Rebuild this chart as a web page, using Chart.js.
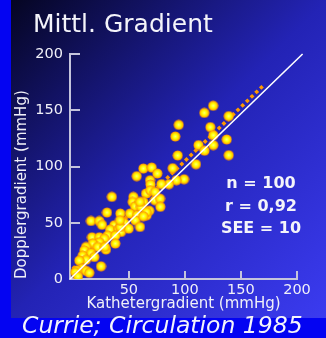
<!DOCTYPE html>
<html>
<head>
<meta charset="utf-8">
<script src="https://cdn.jsdelivr.net/npm/chart.js@4.4.1/dist/chart.umd.min.js"></script>
<style>
  html, body { margin: 0; padding: 0; width: 326px; height: 338px; overflow: hidden; background: #0404f2; }
  #panel { position: absolute; left: 11px; top: 0; width: 315px; height: 318px;
           background: linear-gradient(to bottom right, #050522 0%, #2323b5 50%, #3b3bf0 100%); }
  #c { position: absolute; left: 0; top: 0; }
  .t { position: absolute; color: #f4f4fa; font-family: "DejaVu Sans", sans-serif; white-space: nowrap; }
  #title { left: 33px; top: 9px; font-size: 25px; line-height: 30px; }
  #stats { left: 211px; top: 172px; width: 100px; text-align: center; font-weight: bold; font-size: 16px; line-height: 22.5px; }
  #cite { left: 22px; top: 311px; font-size: 23.5px; line-height: 28px; font-style: italic; }
</style>
</head>
<body>
<div id="panel"></div>
<canvas id="c" width="326" height="338"></canvas>
<div class="t" id="title">Mittl. Gradient</div>
<div class="t" id="stats">n = 100<br>r = 0,92<br>SEE = 10</div>
<div class="t" id="cite">Currie; Circulation 1985</div>
<script>
// Catheter (x) vs. Doppler (y) mean gradient, mmHg
const catheterGradient = [
  125.2, 117.3, 94.5, 139.1, 122.7, 125.3, 91.4, 137.3, 112.1, 125.3,
  117.5, 93.6, 139.1, 109.9, 89.1, 62.9, 70.4, 75.4, 57.0, 68.9,
  99.2, 92.5, 69.3, 85.8, 79.0, 65.3, 69.1, 34.8, 54.0, 73.3,
  77.8, 53.4, 62.9, 55.5, 60.8, 78.1, 68.2, 30.5, 42.4, 51.0,
  57.3, 65.9, 55.8, 16.2, 23.6, 26.0, 37.0, 45.9, 33.2, 40.9,
  43.0, 49.9, 17.1, 23.6, 31.1, 37.9, 28.1, 23.6, 37.9, 17.8,
  11.8, 22.2, 29.6, 10.3, 16.2, 8.8, 19.2, 11.8, 5.8, 25.2,
  8.2, 3.7, 11.8, 14.7, 2.2, 4.6, 73.3, 65.9, 62.9, 59.9,
  42.4, 59.9, 42.1, 28.7
];
const dopplerGradient = [
  154.0, 147.7, 137.0, 144.8, 135.0, 127.8, 126.7, 124.0, 119.0, 119.0,
  114.1, 109.8, 110.1, 102.0, 98.5, 98.2, 99.1, 93.8, 91.4, 87.8,
  88.7, 87.8, 84.0, 84.3, 84.3, 76.0, 78.9, 73.0, 73.0, 70.0,
  71.4, 68.5, 68.5, 64.7, 64.2, 64.2, 60.7, 59.1, 58.2, 58.2,
  56.7, 56.7, 52.2, 51.6, 51.6, 48.2, 47.8, 49.8, 43.9, 44.5,
  41.8, 44.8, 37.1, 37.1, 38.6, 38.6, 35.9, 32.7, 31.5, 31.5,
  28.5, 28.5, 26.2, 25.5, 23.1, 20.8, 19.6, 17.1, 16.4, 11.3,
  9.3, 7.7, 7.3, 5.5, 6.0, 2.4, 77.4, 59.6, 55.8, 68.5,
  46.3, 46.3, 52.2, 28.5
];

// Reference line and regression line endpoints
const identityX = [-2.5, 205];
const identityY = [0, 200];
const regressionX = [0, 171];
const regressionY = [9, 173];

const yTickValues = [0, 50, 100, 150, 200];
const xTickValues = [50, 100, 150, 200];

const toPoints = (xs, ys) => xs.map((x, i) => ({ x: x, y: ys[i] }));

// Shaded yellow/orange marker sprite
function makeDot() {
  const c = document.createElement('canvas');
  c.width = 11; c.height = 11;
  const g = c.getContext('2d');
  const rg = g.createRadialGradient(5.5, 5.5, 0, 5.5, 5.5, 5.5);
  rg.addColorStop(0, '#ffff80');
  rg.addColorStop(0.4, '#ffff00');
  rg.addColorStop(0.65, '#ffd000');
  rg.addColorStop(0.85, '#ff9800');
  rg.addColorStop(1, 'rgba(235,125,0,0.2)');
  g.fillStyle = rg;
  g.beginPath();
  g.arc(5.5, 5.5, 5.3, 0, Math.PI * 2);
  g.fill();
  return c;
}

const axisColor = '#c4c4dc';

// Short tick marks pointing into the plot area
const innerTicks = {
  id: 'innerTicks',
  afterDraw(chart) {
    const { ctx, chartArea: a, scales: { x, y } } = chart;
    ctx.save();
    ctx.strokeStyle = axisColor;
    ctx.lineWidth = 2;
    ctx.beginPath();
    yTickValues.slice(1).forEach(v => {
      const py = Math.round(y.getPixelForValue(v));
      ctx.moveTo(a.left, py); ctx.lineTo(a.left + 10, py);
    });
    xTickValues.forEach(v => {
      const px = Math.round(x.getPixelForValue(v));
      ctx.moveTo(px, a.bottom); ctx.lineTo(px, a.bottom - 8);
    });
    ctx.stroke();
    ctx.restore();
  }
};

const font = { family: '"DejaVu Sans", sans-serif' };

new Chart(document.getElementById('c'), {
  type: 'scatter',
  data: {
    datasets: [
      {
        type: 'line',
        data: toPoints(identityX, identityY),
        borderColor: '#ffffff',
        borderWidth: 1.6,
        pointRadius: 0,
        clip: false,
        order: 0
      },
      {
        data: toPoints(catheterGradient, dopplerGradient),
        pointStyle: makeDot(),
        pointRadius: 5,
        order: 1
      },
      {
        type: 'line',
        data: toPoints(regressionX, regressionY),
        borderColor: '#ff9a00',
        borderWidth: 3.5,
        borderDash: [3.5, 3],
        pointRadius: 0,
        clip: false,
        order: 2
      }
    ]
  },
  options: {
    responsive: false,
    animation: false,
    events: [],
    layout: { padding: { left: 11, top: 54, right: 29, bottom: 23 } },
    plugins: { legend: { display: false }, tooltip: { enabled: false } },
    scales: {
      x: {
        type: 'linear',
        min: -2.5,
        max: 200,
        afterFit(s) { s.height = 36; },
        afterBuildTicks(s) { s.ticks = xTickValues.map(v => ({ value: v })); },
        grid: { display: false, drawTicks: false },
        border: { display: true, color: axisColor, width: 2 },
        ticks: { color: '#f0f0f8', padding: 3, font: { ...font, size: 14.5 }, maxRotation: 0 },
        title: { display: true, text: 'Kathetergradient (mmHg)', color: '#f0f0f8',
                 font: { ...font, size: 15 }, padding: { top: 0, bottom: 2 } }
      },
      y: {
        type: 'linear',
        min: 0,
        max: 200,
        afterFit(s) { s.width = 59; },
        afterBuildTicks(s) { s.ticks = yTickValues.map(v => ({ value: v })); },
        grid: { display: false, drawTicks: false },
        border: { display: true, color: axisColor, width: 2 },
        ticks: { color: '#f0f0f8', padding: 7, font: { ...font, size: 14.5 } },
        title: { display: true, text: 'Dopplergradient (mmHg)', color: '#f0f0f8', align: 'start',
                 font: { ...font, size: 15 }, padding: { top: 2, bottom: 0 } }
      }
    }
  },
  plugins: [innerTicks]
});
</script>
</body>
</html>
